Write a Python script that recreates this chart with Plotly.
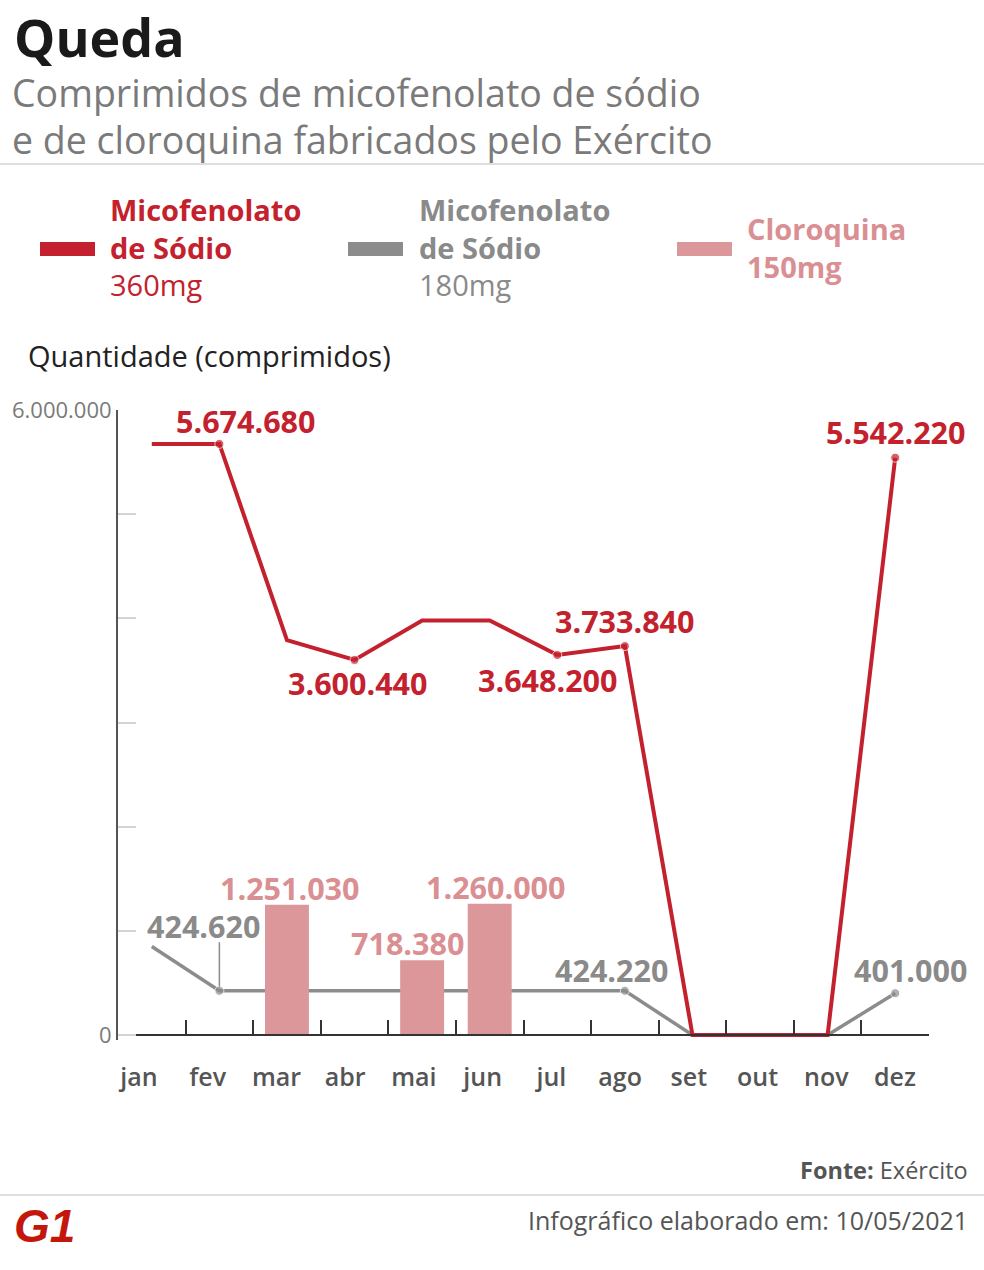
import plotly.graph_objects as go

# ---------------- data ----------------
months = ["jan", "fev", "mar", "abr", "mai", "jun", "jul", "ago", "set", "out", "nov", "dez"]
mico360 = [5674680, 5674680, 3790000, 3600440, 3980000, 3980000, 3648200, 3733840, 0, 0, 0, 5542220]
mico180 = [850000, 424620, 424500, 424500, 424500, 424500, 424400, 424220, 0, 0, 0, 401000]
cloro_months = ["mar", "mai", "jun"]
cloro = [1251030, 718380, 1260000]
y_tickvals = [0, 1000000, 2000000, 3000000, 4000000, 5000000, 6000000]
y_ticktext = ["0", "", "", "", "", "", "6.000.000"]

# which points get a value label (and a dot) + label offsets in px (style only)
red_labels = {"fev": (26, 23), "abr": (3, -23), "jul": (-10, -25), "ago": (0, 25), "dez": (0, 26)}
gray_labels = {"fev": (-16, 65), "ago": (-13, 21), "dez": (15, 23)}
pink_labels = {"mar": (3, 17), "mai": (-15, 17), "jun": (6, 17)}

RED = "#c4212e"
GRAY = "#8c8c8c"
GRAYTXT = "#8a8a8a"
PINK = "#dc979a"
PINKTXT = "#da8f93"
FONT = "Open Sans"

W, H = 984, 1270
L, T = 118, 410
R = W - 929
B = H - 1040
PW, PH = W - L - R, H - T - B
YMIN, YMAX = -48000, 6000000
# month-label axis is drawn slightly wider-spaced than the plotting axis, as in the original
LABEL_RANGE = [-0.3056, 11.4944]


def fx(px):
    return (px - L) / PW


def fy(py):
    return (H - B - py) / PH


def fmt(v):
    return f"{v:,}".replace(",", ".")


fig = go.Figure()

# gray line on the base subplot (below the bars)
fig.add_trace(go.Scatter(
    x=months, y=mico180, mode="lines+markers",
    line=dict(color=GRAY, width=3.5),
    marker=dict(color=GRAY, size=[9 if m in gray_labels else 0 for m in months]),
    xaxis="x", yaxis="y", hoverinfo="skip", showlegend=False))

# bars + red line on the overlay subplot (above the gray line)
fig.add_trace(go.Bar(
    x=cloro_months, y=cloro, width=0.65, marker=dict(color=PINK, line=dict(width=0)),
    xaxis="x2", yaxis="y2", hoverinfo="skip", showlegend=False))
fig.add_trace(go.Scatter(
    x=months, y=mico360, mode="lines+markers",
    line=dict(color=RED, width=4),
    marker=dict(color=RED, size=[9 if m in red_labels else 0 for m in months]),
    xaxis="x2", yaxis="y2", hoverinfo="skip", showlegend=False))
# month labels live on a label-only category axis
fig.add_trace(go.Scatter(x=months, y=[None] * len(months), xaxis="x3", yaxis="y", mode="lines",
                         hoverinfo="skip", showlegend=False))

ann = []
vfont = 30.5
for m, (dx, dy) in red_labels.items():
    v = mico360[months.index(m)]
    ann.append(dict(x=m, y=v, xref="x2", yref="y2", text=f"<b>{fmt(v)}</b>",
                    showarrow=False, xshift=dx, yshift=dy, font=dict(family=FONT, size=vfont, color=RED)))
for m, (dx, dy) in gray_labels.items():
    v = mico180[months.index(m)]
    ann.append(dict(x=m, y=v, xref="x", yref="y", text=f"<b>{fmt(v)}</b>",
                    showarrow=False, xshift=dx, yshift=dy, font=dict(family=FONT, size=vfont, color=GRAYTXT)))
for m, (dx, dy) in pink_labels.items():
    v = cloro[cloro_months.index(m)]
    ann.append(dict(x=m, y=v, xref="x2", yref="y2", text=f"<b>{fmt(v)}</b>",
                    showarrow=False, xshift=dx, yshift=dy, font=dict(family=FONT, size=vfont, color=PINKTXT)))
# leader line for the fev gray label
ann.append(dict(x="fev", y=mico180[1], xref="x", yref="y", text="", showarrow=True, ax=0, ay=-50,
                arrowhead=0, arrowwidth=1.5, arrowcolor=GRAY, standoff=4))

# titles
ann.append(dict(x=fx(12), y=fy(36), xref="paper", yref="paper", xanchor="left", yanchor="middle",
                text="<b>Queda</b>", showarrow=False, font=dict(family=FONT, size=52, color="#1a1a1a")))
ann.append(dict(x=fx(10), y=fy(92), xref="paper", yref="paper", xanchor="left", yanchor="middle",
                text="Comprimidos de micofenolato de sódio", showarrow=False,
                font=dict(family=FONT, size=37.5, color="#7a7a7a")))
ann.append(dict(x=fx(10), y=fy(139), xref="paper", yref="paper", xanchor="left", yanchor="middle",
                text="e de cloroquina fabricados pelo Exército", showarrow=False,
                font=dict(family=FONT, size=37.5, color="#7a7a7a")))

# legend
lfont = 29
ann.append(dict(x=fx(108), y=fy(247), xref="paper", yref="paper", xanchor="left", yanchor="middle", align="left",
                text="<b>Micofenolato<br>de Sódio</b><br>360mg", showarrow=False,
                font=dict(family=FONT, size=lfont, color=RED)))
ann.append(dict(x=fx(417), y=fy(247), xref="paper", yref="paper", xanchor="left", yanchor="middle", align="left",
                text="<b>Micofenolato<br>de Sódio</b><br>180mg", showarrow=False,
                font=dict(family=FONT, size=lfont, color=GRAYTXT)))
ann.append(dict(x=fx(745), y=fy(247), xref="paper", yref="paper", xanchor="left", yanchor="middle", align="left",
                text="<b>Cloroquina<br>150mg</b>", showarrow=False,
                font=dict(family=FONT, size=lfont, color=PINKTXT)))

ann.append(dict(x=fx(26), y=fy(355), xref="paper", yref="paper", xanchor="left", yanchor="middle",
                text="Quantidade (comprimidos)", showarrow=False, font=dict(family=FONT, size=29, color="#222")))

# footer
ann.append(dict(x=fx(970), y=fy(1170), xref="paper", yref="paper", xanchor="right", yanchor="middle",
                text="<b>Fonte:</b> Exército", showarrow=False, font=dict(family=FONT, size=23.5, color="#555")))
ann.append(dict(x=fx(970), y=fy(1220), xref="paper", yref="paper", xanchor="right", yanchor="middle",
                text="Infográfico elaborado em: 10/05/2021", showarrow=False, font=dict(family=FONT, size=25, color="#555")))
ann.append(dict(x=fx(12), y=fy(1226), xref="paper", yref="paper", xanchor="left", yanchor="middle",
                text="<b><i>G1</i></b>", showarrow=False, font=dict(family="Liberation Sans", size=46, color="#c4170c")))

shapes = []
for py in (164, 1195):
    shapes.append(dict(type="line", xref="paper", yref="paper", x0=fx(0), x1=fx(984), y0=fy(py), y1=fy(py),
                       line=dict(color="#dedede", width=2)))
for x0, col in ((40, RED), (348, GRAY), (677, PINK)):
    shapes.append(dict(type="rect", xref="paper", yref="paper", x0=fx(x0), x1=fx(x0 + 55), y0=fy(256), y1=fy(242),
                       fillcolor=col, line=dict(width=0)))

zero_pos = (0 - YMIN) / (YMAX - YMIN)

fig.update_layout(
    width=W, height=H, margin=dict(l=L, r=R, t=T, b=B, autoexpand=False),
    paper_bgcolor="white", plot_bgcolor="white",
    xaxis=dict(type="category", categoryorder="array", categoryarray=months, range=[-0.5, 11.5],
               anchor="free", position=zero_pos, side="bottom", automargin=False,
               showline=True, linecolor="#333", linewidth=2, showgrid=False, zeroline=False,
               ticks="inside", tickson="boundaries", ticklen=14, tickwidth=2, tickcolor="#333",
               showticklabels=False),
    yaxis=dict(range=[YMIN, YMAX], tickvals=y_tickvals, ticktext=y_ticktext, automargin=False,
               showline=True, linecolor="#555", linewidth=2, showgrid=False, zeroline=False,
               ticks="inside", ticklen=18, tickwidth=2, tickcolor="#d4d4d4",
               tickfont=dict(family=FONT, size=22, color="#7a7a7a")),
    xaxis2=dict(type="category", categoryorder="array", categoryarray=months, range=[-0.5, 11.5],
                overlaying="x", anchor="y2", visible=False, automargin=False),
    yaxis2=dict(range=[YMIN, YMAX], overlaying="y", anchor="x2", visible=False, automargin=False),
    xaxis3=dict(type="category", categoryorder="array", categoryarray=months, range=LABEL_RANGE,
                overlaying="x", anchor="free", position=zero_pos, side="bottom", automargin=False,
                showline=False, showgrid=False, zeroline=False, ticks="",
                tickfont=dict(family=FONT, size=25, color="#555", weight=600), ticklabelstandoff=25),
    annotations=ann, shapes=shapes,
)

fig.write_html("out.html", config={"displayModeBar": False},
               post_script="document.body.style.margin='0';")
